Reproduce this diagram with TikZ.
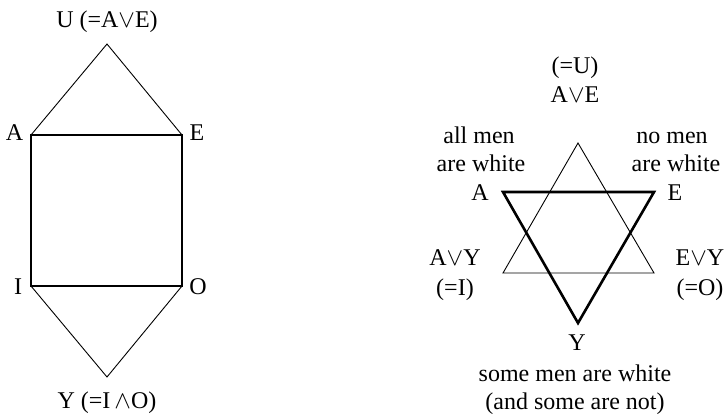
\documentclass[tikz,border=0pt]{standalone}
\usepackage{fontspec}
\setmainfont{Liberation Serif}
\begin{document}
\begin{tikzpicture}[x=1pt,y=-1pt,
  thin line/.style={line width=0.9pt},
  thick line/.style={line width=2.6pt,line join=miter},
  lbl/.style={anchor=base,inner sep=0pt,font=\fontsize{24}{29}\selectfont}]
\useasboundingbox (0,0) rectangle (728,416);
% left diagram
\coordinate (U) at (107,44);
\coordinate (A) at (31,135);
\coordinate (E) at (182,135);
\coordinate (I) at (31,286);
\coordinate (O) at (182,286);
\coordinate (Y) at (107,377);
\draw[thin line] (A) -- (U) -- (E);
\draw[thin line] (I) -- (Y) -- (O);
\draw[thick line] (A) -- (E) -- (O) -- (I) -- cycle;
\node[lbl] (lU) at (107,27) {U (=A$\vee$E)};
\node[lbl] (lA) at (14.5,140) {A};
\node[lbl] (lE) at (197,140) {E};
\node[lbl] (lI) at (18,294) {I};
\node[lbl] (lO) at (198,294) {O};
\node[lbl] (lY) at (107,408) {Y (=I\,$\wedge$O)};
% right diagram
\coordinate (rU) at (578,143);
\coordinate (rI) at (503,273);
\coordinate (rO) at (654,273);
\coordinate (rA) at (503,192);
\coordinate (rE) at (654,192);
\coordinate (rY) at (578,323);
\draw[thin line] (rU) -- (rO) -- (rI) -- cycle;
\draw[thick line] (rA) -- (rE) -- (rY) -- cycle;
\node[lbl] (u1) at (575,73) {(=U)};
\node[lbl] (u2) at (575,102) {A$\vee$E};
\node[lbl] (a1) at (479,143) {all men};
\node[lbl] (a2) at (481,171) {are white};
\node[lbl] (e1) at (672,143) {no men};
\node[lbl] (e2) at (676,171) {are white};
\node[lbl] (ra) at (480,200) {A};
\node[lbl] (re) at (675,200) {E};
\node[lbl] (i1) at (455,265) {A$\vee$Y};
\node[lbl] (i2) at (455,295) {(=I)};
\node[lbl] (o1) at (700,265) {E$\vee$Y};
\node[lbl] (o2) at (700,295) {(=O)};
\node[lbl] (ry) at (577,350) {Y};
\node[lbl] (y1) at (575,381) {some men are white};
\node[lbl] (y2) at (575,409) {(and some are not)};
\end{tikzpicture}
\end{document}
